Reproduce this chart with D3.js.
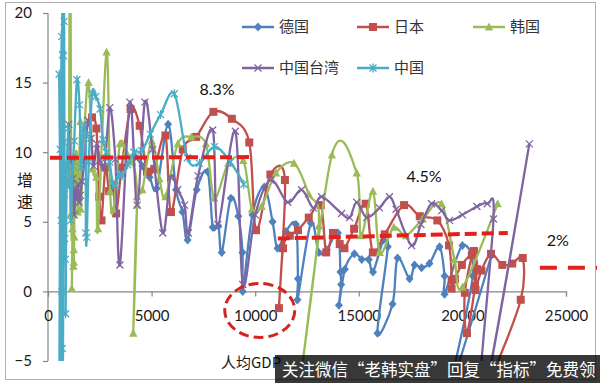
<!DOCTYPE html>
<html><head><meta charset="utf-8">
<script src="https://cdn.jsdelivr.net/npm/d3@7"></script>
<style>body{margin:0;background:#fff}svg{display:block}</style>
</head><body><svg id="c" width="600" height="383"></svg>
<script>
// ---- data ----
const seriesNames = ["德国","日本","韩国","中国台湾","中国"];
const seriesColors = ["#4F81BD","#C0504D","#9BBB59","#8064A2","#4BACC6"];
const deX = [4206,4553,4905,5247,5797,6177,6492,6737,7177,7705,7952,8222,8386,8822,9186,9388,9397,9864,10440,10839,11077,11481,11966,12063,12041,12684,13072,13455,13993,14114,14149,14040,14329,14785,15140,15482,15686,16187,16400,15900,16630,16870,17450,17690,18030,18410,18900,19140,19140,20000,20500,19500,21400];
const deY = [9.7,9.0,8.2,7.4,12.0,7.3,5.7,3.7,7.3,8.6,4.6,4.7,2.8,6.7,5.4,2.8,0.0,5.5,7.5,5.0,3.1,4.3,4.8,0.9,-0.6,4.9,2.8,3.0,4.2,1.4,0.5,-1.0,1.6,2.7,2.3,2.3,1.4,3.7,3.2,-3.0,-0.9,2.4,0.9,1.9,1.7,2.0,3.2,1.1,-0.2,3.3,1.1,-6.5,2.6];
const jpX = [2126,2336,2474,2582,2771,2948,3136,3289,3554,3986,4426,4777,5129,5668,5934,6506,7152,7983,8874,9714,10040,10734,11434,11145,11344,11669,12064,12585,13163,13428,13754,14078,14307,14773,15331,15679,16251,17185,17943,18789,19355,19482,19478,19637,19974,20454,20702,20221,20117,20558,20606,20635,20919,21383,21927,22405,22914,22816,21500];
const jpY = [12.5,11.7,6.8,5.1,8.9,7.2,7.6,5.6,8.9,13.1,11.9,8.6,8.8,11.2,5.7,10.2,11.1,12.9,12.4,10.7,4.4,8.4,8.0,-1.2,3.1,4.0,4.4,5.3,6.2,2.8,4.2,3.4,3.1,4.5,6.3,2.8,4.1,6.2,5.4,5.1,3.3,0.8,0.2,0.9,1.9,2.6,1.6,-3.0,-0.1,2.9,0.4,0.1,1.5,2.7,1.9,2.0,2.4,-0.6,-5.8];
const krX = [1010,1072,1125,1180,1150,1210,1240,1265,1226,1247,1245,1316,1400,1436,1565,1578,1740,1956,2167,2333,2415,2824,2996,3162,3476,3775,4064,4294,4114,4302,4557,5007,5375,5670,6263,6916,7621,8027,8704,9425,9842,10306,11002,11873,12580,13071,12140,13700,14900,15100,15682,16010,16690,17277,18082,18991,19614,20000,21700];
const krY = [8.0,28.0,5.6,4.5,0.2,7.6,5.5,3.9,1.8,3.0,2.1,9.1,9.7,5.7,12.2,5.9,11.3,15.0,8.8,8.2,4.5,17.2,7.2,5.9,10.6,10.0,9.3,6.8,-3.0,6.2,7.3,10.8,8.1,6.8,10.6,11.1,10.6,6.7,9.2,9.4,5.9,6.1,8.5,9.2,7.0,4.7,-6.9,9.8,8.5,4.0,7.2,2.8,4.6,4.0,5.2,6.3,2.3,0.3,6.3];
const twX = [1000,1080,1150,1200,1260,1320,1380,1440,1500,1560,1640,1760,1930,2080,2204,2355,2536,2736,2980,3250,3470,3950,4300,4675,5044,5540,5911,6260,6589,6771,7243,7950,8193,9042,9400,10000,10744,11570,12240,12800,13200,14170,14560,14900,15380,16000,16480,16800,17545,18000,18510,19000,19376,20000,20700,21200,21500,20800,23230];
const twY = [12.0,9.3,9.6,8.1,5.5,7.3,6.6,7.7,6.4,6.9,7.9,9.4,12.3,11.0,9.0,10.6,9.2,9.0,13.2,9.5,1.9,13.6,6.2,13.6,10.2,4.2,8.2,7.3,6.2,4.2,8.3,11.6,4.8,11.5,0.5,5.5,8.0,6.4,7.3,6.0,6.8,5.6,5.3,6.4,5.3,6.0,6.8,5.9,3.3,4.8,6.3,5.8,5.1,5.5,6.1,6.3,5.2,-9.3,10.6];
const cnX = [538,637,693,697,662,553,550,592,659,706,753,720,683,749,778,799,802,839,836,874,852,895,978,1039,1067,1103,1192,1265,1396,1519,1597,1706,1816,1827,1871,1967,2132,2312,2515,2653,2820,2973,3117,3259,3421,3583,3843,4147,4522,4936,5434,6097,6725,7308,8032,8800,9450];
const cnY = [15.6,5.1,21.3,9.0,0.0,-27.3,-5.6,10.2,18.3,17.0,10.7,-5.7,-4.1,16.9,19.4,7.0,3.8,7.9,2.3,8.7,-1.6,7.6,11.7,7.6,7.8,5.1,9.0,10.8,15.2,13.4,8.9,11.7,11.2,4.2,3.9,9.3,14.2,14.0,13.1,10.9,10.0,9.3,7.8,7.6,8.4,8.3,9.1,10.0,10.1,11.3,12.7,14.2,9.6,9.2,10.4,9.3,7.7];
const xTicks = [0,5000,10000,15000,20000,25000];
const yTicks = [-5,0,5,10,15,20];
const yTitle = ["增","速"];
const xTitle = "人均GDP";
// reference (dashed) lines: [x1,y1,x2,y2] in data units
const refLine1 = [96,9.6,9880,9.65];
const refLine2 = [11090,3.8,22190,4.2];
const refLine3 = [23740,1.7,26500,1.7];
const annoText = ["8.3%","4.5%","2%"];
const annoX = [8160,18150,24600];
const annoY = [14.5,8.3,3.65];
const banner = "关注微信“老韩实盘”回复“指标”免费领";

// ---- chart ----
const svg = d3.select("#c");
const x = d3.scaleLinear().domain([0,25000]).range([48,566]);
const y = d3.scaleLinear().domain([-5,20]).range([361,13]);
const numFont = "Lato, 'Liberation Sans', sans-serif";
const cjkFont = "'Noto Sans CJK SC', sans-serif";

svg.append("rect").attr("x",5.5).attr("y",2.5).attr("width",590).attr("height",377)
  .attr("fill","#fff").attr("stroke","#b0b0b0");

svg.append("defs").append("clipPath").attr("id","clip")
  .append("rect").attr("x",40).attr("y",y(20)).attr("width",556).attr("height",y(-5)-y(20));

// axes
const yAxis = d3.axisLeft(y).tickValues(yTicks).tickSize(5).tickPadding(11).tickFormat(d3.format("d"));
const gy = svg.append("g").attr("transform",`translate(${x(0)},0)`).call(yAxis);
const xAxis = d3.axisBottom(x).tickValues(xTicks).tickSize(5).tickPadding(14).tickFormat(d3.format("d"));
const gx = svg.append("g").attr("transform",`translate(0,${y(0)})`).call(xAxis);
[gx,gy].forEach(g=>{
  g.select(".domain").attr("stroke","#868686").attr("stroke-width",1.2);
  g.selectAll(".tick line").attr("stroke","#868686").attr("stroke-width",1.2);
  g.selectAll(".tick text").attr("fill","#1a1a1a").style("font-family",numFont).style("font-size","15px");
});
gy.select(".domain").attr("d",`M-0,${y(20)}V${y(-5)}`);

// symbols
function marker(sel, i, px, py){
  const c = seriesColors[i];
  if(i===0){ // diamond
    sel.append("path").attr("d",`M${px},${py-4.5}L${px+4},${py}L${px},${py+4.5}L${px-4},${py}Z`).attr("fill",c);
  } else if(i===1){ // square
    sel.append("rect").attr("x",px-4).attr("y",py-4).attr("width",8).attr("height",8).attr("fill",c);
  } else if(i===2){ // triangle
    sel.append("path").attr("d",`M${px},${py-4.5}L${px+4.2},${py+3.5}L${px-4.2},${py+3.5}Z`).attr("fill",c);
  } else if(i===3){ // x
    sel.append("path").attr("d",`M${px-3.5},${py-3.5}L${px+3.5},${py+3.5}M${px-3.5},${py+3.5}L${px+3.5},${py-3.5}`).attr("stroke",c).attr("stroke-width",1.3).attr("fill","none");
  } else { // star
    sel.append("path").attr("d",`M${px-3.5},${py-3.5}L${px+3.5},${py+3.5}M${px-3.5},${py+3.5}L${px+3.5},${py-3.5}M${px},${py-4.5}L${px},${py+4.5}`).attr("stroke",c).attr("stroke-width",1.3).attr("fill","none");
  }
}

const allX = [deX,jpX,krX,twX,cnX];
const allY = [deY,jpY,krY,twY,cnY];
const plot = svg.append("g").attr("clip-path","url(#clip)");
const line = d3.line().x(d=>x(d[0])).y(d=>y(d[1])).curve(d3.curveCardinal.tension(0));
allX.forEach((xs,i)=>{
  const pts = xs.map((v,k)=>[v,allY[i][k]]);
  const g = plot.append("g");
  g.append("path").attr("d",line(pts)).attr("fill","none").attr("stroke",seriesColors[i])
    .attr("stroke-width",2.3).attr("stroke-linejoin","round");
  pts.forEach(p=>marker(g,i,x(p[0]),y(p[1])));
});

// legend
const legPos = [[242,27],[357,27],[473,27],[242,68],[357,68]];
seriesNames.forEach((n,i)=>{
  const [lx,ly] = legPos[i];
  const g = svg.append("g");
  g.append("line").attr("x1",lx).attr("x2",lx+32).attr("y1",ly).attr("y2",ly)
    .attr("stroke",seriesColors[i]).attr("stroke-width",2.5);
  marker(g,i,lx+16,ly);
  g.append("text").attr("x",lx+37).attr("y",ly).attr("dy","0.36em")
    .style("font-family",cjkFont).style("font-size","15px").attr("fill","#333").text(n);
});

// axis titles
yTitle.forEach((t,k)=>{
  svg.append("text").attr("x",25).attr("y",180+k*22).attr("dy","0.36em").attr("text-anchor","middle")
    .style("font-family",cjkFont).style("font-size","16px").attr("fill","#1a1a1a").text(t);
});
svg.append("text").attr("x",221).attr("y",363).attr("dy","0.36em")
  .style("font-family",cjkFont).style("font-size","15px").attr("fill","#1a1a1a").text(xTitle);

// dashed reference lines
const red = "#E3211C";
[refLine1,refLine2].forEach(r=>{
  svg.append("line").attr("x1",x(r[0])).attr("y1",y(r[1])).attr("x2",x(r[2])).attr("y2",y(r[3]))
    .attr("stroke",red).attr("stroke-width",4).attr("stroke-dasharray","12,5");
});
svg.append("line").attr("x1",x(refLine3[0])).attr("y1",y(refLine3[1])).attr("x2",x(refLine3[2])).attr("y2",y(refLine3[3]))
  .attr("stroke",red).attr("stroke-width",4).attr("stroke-dasharray","17,11");
svg.append("ellipse").attr("cx",x(10220)).attr("cy",y(-1.37)).attr("rx",35).attr("ry",27)
  .attr("fill","none").attr("stroke","#D42420").attr("stroke-width",3).attr("stroke-dasharray","10,5");

annoText.forEach((t,k)=>{
  svg.append("text").attr("x",x(annoX[k])).attr("y",y(annoY[k])).attr("dy","0.36em").attr("text-anchor","middle")
    .style("font-family",numFont).style("font-size","16px").attr("fill","#111").text(t);
});

// overlay banner
svg.append("rect").attr("x",275).attr("y",355).attr("width",325).attr("height",28).attr("fill","#000").attr("opacity",0.78);
svg.append("text").attr("x",282).attr("y",370).attr("dy","0.36em")
  .style("font-family",cjkFont).style("font-size","16.5px").attr("fill","#fff").text(banner);
</script></body></html>
